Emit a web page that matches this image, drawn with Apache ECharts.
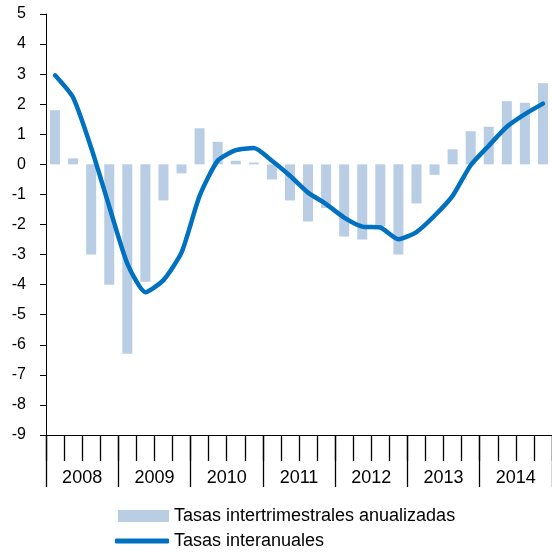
<!DOCTYPE html>
<html>
<head>
<meta charset="utf-8">
<script src="https://cdn.jsdelivr.net/npm/echarts@6/dist/echarts.min.js"></script>
<style>
  html, body { margin: 0; padding: 0; background: #fff; }
  #chart { width: 552px; height: 553px; }
</style>
</head>
<body>
<div id="chart"></div>
<script>
// trimestres 2008T1 - 2014T4
const years = ['2008', '2009', '2010', '2011', '2012', '2013', '2014']
const quarters = []
years.forEach((y) => {
  for (let q = 1; q <= 4; q++) quarters.push(y + 'T' + q)
})
const intertrimestrales = [1.8, 0.2, -3.0, -4.0, -6.3, -3.9, -1.2, -0.3,
  1.2, 0.75, 0.12, 0.06, -0.5, -1.2, -1.9, -1.45,
  -2.4, -2.5, -2.05, -3.0, -1.3, -0.35, 0.5, 1.1,
  1.25, 2.1, 2.05, 2.7]
const interanuales = [2.96, 2.22, 0.55, -1.4, -3.3, -4.25, -3.85, -2.93,
  -1.05, 0.12, 0.47, 0.54, 0.12, -0.38, -0.94, -1.32,
  -1.77, -2.07, -2.1, -2.49, -2.25, -1.71, -1.05, -0.03,
  0.62, 1.25, 1.67, 2.02]

const font = "'Liberation Sans', Arial, sans-serif"
const chart = echarts.init(document.getElementById('chart'))
const option = {
  animation: false,
  textStyle: { fontFamily: font, color: '#000' },
  grid: { left: 46, top: 14, width: 508, height: 421, containLabel: false },
  legend: [
    {
      data: ['Tasas intertrimestrales anualizadas'],
      left: 113, top: 502,
      icon: 'rect', itemWidth: 51, itemHeight: 12, itemGap: 0,
      textStyle: { fontSize: 18, color: '#000', fontFamily: font },
    },
    {
      data: ['Tasas interanuales'],
      left: 110, top: 527,
      icon: 'roundRect', itemWidth: 54, itemHeight: 5, itemGap: 0,
      textStyle: { fontSize: 18, color: '#000', fontFamily: font },
    },
  ],
  xAxis: [
    {
      type: 'category',
      data: quarters,
      position: 'bottom',
      axisLine: { onZero: false, lineStyle: { color: '#000', width: 1 } },
      axisTick: { show: true, interval: 0, length: 26, lineStyle: { color: '#000', width: 1.3 } },
      axisLabel: { show: false, interval: 0 },
    },
    {
      type: 'category',
      data: years,
      position: 'bottom',
      offset: 0,
      axisLine: { onZero: false, lineStyle: { color: '#000', width: 1 } },
      axisTick: { show: true, interval: 0, length: 52, lineStyle: { color: '#000', width: 1.3 } },
      axisLabel: { interval: 0, fontSize: 18, color: '#000', margin: 34, fontFamily: font },
    },
  ],
  yAxis: {
    type: 'value',
    min: -9,
    max: 5,
    interval: 1,
    axisLine: { show: true, lineStyle: { color: '#000', width: 1 } },
    axisTick: { show: true, length: 6, lineStyle: { color: '#000' } },
    axisLabel: { fontSize: 16, color: '#000', margin: 20, fontFamily: font },
    splitLine: { show: false },
  },
  series: [
    {
      name: 'Tasas intertrimestrales anualizadas',
      type: 'bar',
      data: intertrimestrales,
      barWidth: 10,
      itemStyle: { color: '#B9CDE5' },
    },
    {
      name: 'Tasas interanuales',
      type: 'line',
      data: interanuales,
      smooth: 0.2,
      showSymbol: false,
      symbol: 'none',
      itemStyle: { color: '#0070C0' },
      lineStyle: { color: '#0070C0', width: 4.5, cap: 'round' },
    },
  ],
}
chart.setOption(option)
</script>
</body>
</html>
